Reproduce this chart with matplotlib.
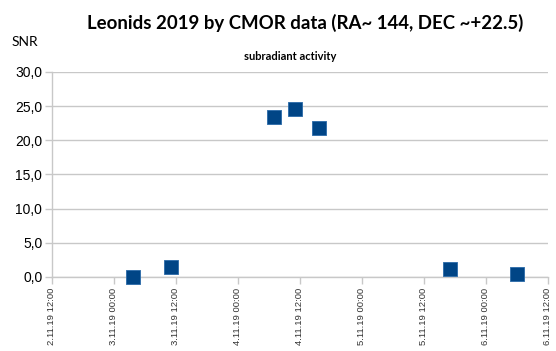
import matplotlib
matplotlib.use('Agg')
import matplotlib.pyplot as plt
import matplotlib.dates as mdates
from datetime import datetime

# Data: observation times and SNR values
times = ['2019-11-03 03:40', '2019-11-03 11:00', '2019-11-04 07:00',
         '2019-11-04 11:00', '2019-11-04 15:45', '2019-11-05 17:00',
         '2019-11-06 06:00']
snr = [0.0, 1.4, 23.4, 24.6, 21.8, 1.1, 0.5]

tick_times = ['2019-11-02 12:00', '2019-11-03 00:00', '2019-11-03 12:00',
              '2019-11-04 00:00', '2019-11-04 12:00', '2019-11-05 00:00',
              '2019-11-05 12:00', '2019-11-06 00:00', '2019-11-06 12:00']
tick_labels = ['2.11.19 12:00', '3.11.19 00:00', '3.11.19 12:00',
               '4.11.19 00:00', '4.11.19 12:00', '5.11.19 00:00',
               '5.11.19 12:00', '6.11.19 00:00', '6.11.19 12:00']

y_ticks = [0, 5, 10, 15, 20, 25, 30]

fmt = '%Y-%m-%d %H:%M'
x = [datetime.strptime(t, fmt) for t in times]
xt = [datetime.strptime(t, fmt) for t in tick_times]

fig = plt.figure(figsize=(5.56, 3.51), dpi=100)
ax = fig.add_axes([0.0935, 0.211, 0.892, 0.584])

ax.scatter(mdates.date2num(x), snr, marker='s', s=105, color='#004586',
           edgecolors='#2a6aa8', linewidths=0.6, zorder=3, clip_on=False)

ax.set_xlim(mdates.date2num(xt[0]), mdates.date2num(xt[-1]))
ax.set_ylim(0, 30)
ax.set_xticks(mdates.date2num(xt))
ax.set_xticklabels(tick_labels, rotation=90, fontsize=6.8,
                   family='Liberation Sans', color='#333333')
ax.set_yticks(y_ticks)
ax.set_yticklabels([f'{v:.1f}'.replace('.', ',') for v in y_ticks],
                   fontsize=10, family='Liberation Sans')

ax.yaxis.grid(True, color='#c8c8c8', linewidth=1)
ax.set_axisbelow(True)
for s in ['top', 'right']:
    ax.spines[s].set_visible(False)
for s in ['left', 'bottom']:
    ax.spines[s].set_color('#c8c8c8')
    ax.spines[s].set_linewidth(1)
ax.tick_params(axis='both', color='#c8c8c8', length=5, width=1)
ax.tick_params(axis='x', pad=3)
ax.tick_params(axis='y', pad=2)

fig.text(0.549, 0.935, 'Leonids 2019 by CMOR data (RA~ 144, DEC ~+22.5)',
         ha='center', va='center', fontsize=13.4, fontweight='bold',
         family='Lato')
fig.text(0.02, 0.88, 'SNR', ha='left', va='center', fontsize=10,
         family='Lato')
fig.text(0.522, 0.84, 'subradiant activity', ha='center', va='center',
         fontsize=8, fontweight='bold', family='Lato')

fig.savefig('out.png', dpi=100)
